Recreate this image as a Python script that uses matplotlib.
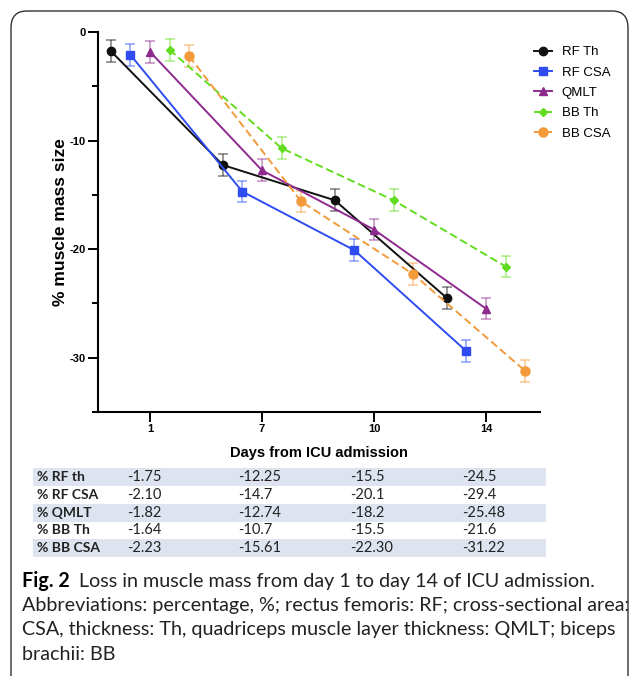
import matplotlib
matplotlib.use("Agg")
import matplotlib.pyplot as plt
import numpy as np
from matplotlib.patches import FancyBboxPatch, Rectangle
from matplotlib.ticker import MultipleLocator

# data (table values, also used for the plot)
days = ['1', '7', '10', '14']
series_names = ['RF Th', 'RF CSA', 'QMLT', 'BB Th', 'BB CSA']
row_labels = ['% RF th', '% RF CSA', '% QMLT', '% BB Th', '% BB CSA']
rf_th = ['-1.75', '-12.25', '-15.5', '-24.5']
rf_csa = ['-2.10', '-14.7', '-20.1', '-29.4']
qmlt = ['-1.82', '-12.74', '-18.2', '-25.48']
bb_th = ['-1.64', '-10.7', '-15.5', '-21.6']
bb_csa = ['-2.23', '-15.61', '-22.30', '-31.22']
sem = [1.0, 1.0, 1.0, 1.0]  # error bar half-length

caption_lines = [
    "Abbreviations: percentage, %; rectus femoris: RF; cross-sectional area:",
    "CSA, thickness: Th, quadriceps muscle layer thickness: QMLT; biceps",
    "brachii: BB",
]
caption_bold = "Fig. 2"
caption_first = "Loss in muscle mass from day 1 to day 14 of ICU admission."

all_rows = [rf_th, rf_csa, qmlt, bb_th, bb_csa]
colors = ['#111111', '#2f4cf2', '#8f2a8f', '#62dc1e', '#f39a3a']
markers = ['o', 's', '^', 'D', 'o']
msizes = [6, 5.5, 6, 4.5, 6.5]
styles = ['-', '-', '-', (0, (4, 2)), (0, (4, 2))]
offsets = [-0.35, -0.175, 0.0, 0.175, 0.35]

W, H = 629, 676
fig = plt.figure(figsize=(W / 100, H / 100), dpi=100)


def fx(px):
    return px / W


def fy(py):
    return 1 - py / H


# rounded frame around the figure
frame = FancyBboxPatch((fx(11), fy(720)), fx(617), fy(11) - fy(720),
                       boxstyle="round,pad=0,rounding_size=0.025",
                       transform=fig.transFigure, fill=False,
                       edgecolor='#333333', linewidth=1.0)
fig.patches.append(frame)

ax = fig.add_axes([fx(98), fy(412), fx(540) - fx(98), fy(32) - fy(412)])
chart_font = 'Liberation Sans'

x = np.arange(len(days))
handles = []
for i, name in enumerate(series_names):
    vals = [float(v) for v in all_rows[i]]
    xs = x + offsets[i]
    ax.errorbar(xs, vals, yerr=sem, fmt='none', ecolor=colors[i], alpha=0.5,
                elinewidth=1.2, capsize=3.5, capthick=1.2, clip_on=False, zorder=2)
    ln, = ax.plot(xs, vals, linestyle=styles[i], color=colors[i], lw=1.4,
                  marker=markers[i], markersize=msizes[i], label=name,
                  clip_on=False, zorder=3)
    handles.append(ln)

ax.set_xlim(-0.464, 3.482)
ax.set_ylim(-35, 0)
ax.set_xticks(x)
ax.set_xticklabels(days)
ax.set_yticks([0, -10, -20, -30])
ax.set_yticklabels(['0', '-10', '-20', '-30'])
ax.yaxis.set_minor_locator(MultipleLocator(5))
for s in ['top', 'right']:
    ax.spines[s].set_visible(False)
for s in ['left', 'bottom']:
    ax.spines[s].set_linewidth(1.5)
ax.tick_params(which='major', direction='out', length=7, width=1.4, pad=2)
ax.tick_params(which='minor', direction='out', length=4, width=1.4)
for lab in ax.get_xticklabels() + ax.get_yticklabels():
    lab.set_fontfamily(chart_font)
    lab.set_fontweight('bold')
    lab.set_fontsize(8)

ax.set_xlabel('Days from ICU admission', fontfamily=chart_font,
              fontweight='bold', fontsize=10.5, labelpad=8)
ax.set_ylabel('% muscle mass size', fontfamily=chart_font,
              fontweight='bold', fontsize=12.5, labelpad=1)

fig.legend(handles=handles, loc='upper left',
           bbox_to_anchor=(fx(534), fy(46)), frameon=False,
           prop={'family': chart_font, 'size': 9.5}, handlelength=1.4,
           handletextpad=0.7, labelspacing=0.62, borderpad=0, borderaxespad=0)

# table under the chart
table_font = 'Lato'
row_h = 17.8
row0 = 477
col_x = [37, 127, 238, 350, 462]
for r, lab in enumerate(row_labels):
    yc = row0 + r * row_h
    if r % 2 == 0:
        fig.patches.append(Rectangle((fx(33), fy(yc + row_h / 2)), fx(546) - fx(33),
                                     row_h / H, transform=fig.transFigure,
                                     facecolor='#dde4ef', edgecolor='none', zorder=0))
    fig.text(fx(col_x[0]), fy(yc), lab, fontfamily=table_font, fontweight='bold',
             fontsize=10, va='center', ha='left', color='#222222')
    for c, v in enumerate(all_rows[r]):
        fig.text(fx(col_x[c + 1]), fy(yc), v, fontfamily=table_font,
                 fontsize=10.5, va='center', ha='left', color='#222222')

# caption, sized so the widest line fits
cap_font = 'Lato'
renderer = fig.canvas.get_renderer()
probe = fig.text(0, 0, caption_lines[0], fontfamily=cap_font, fontsize=12)
w = probe.get_window_extent(renderer).width
probe.remove()
cap_size = 12 * 605 / w

line_y = [581, 605, 630, 654]
t = fig.text(fx(22), fy(line_y[0]), caption_bold, fontfamily=cap_font,
             fontweight='bold', fontsize=cap_size, va='center', ha='left')
bw = t.get_window_extent(renderer).width
fig.text(fx(22 + bw + 9), fy(line_y[0]), caption_first, fontfamily=cap_font,
         fontsize=cap_size, va='center', ha='left', color='#222222')
for k, txt in enumerate(caption_lines):
    fig.text(fx(22), fy(line_y[k + 1]), txt, fontfamily=cap_font,
             fontsize=cap_size, va='center', ha='left', color='#222222')

fig.savefig('out.png', dpi=100)
